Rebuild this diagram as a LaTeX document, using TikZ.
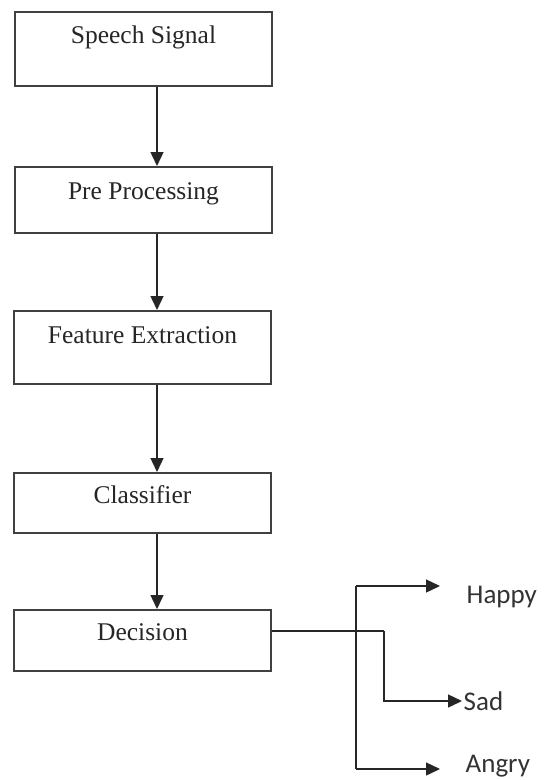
\documentclass[tikz,border=0pt]{standalone}
\usepackage{fontspec}
\setmainfont{Liberation Serif}
\newfontfamily\lblfont{Carlito}
\usetikzlibrary{arrows.meta}
\begin{document}
\begin{tikzpicture}[x=1pt,y=-1pt,
  line width=1.4pt, draw=black!80,
  stepbox/.style={draw=black!75, line width=1.6pt, rectangle, anchor=north,
    minimum width=257pt, inner xsep=0pt, inner ysep=0pt,
    font=\fontsize{25.5}{28}\selectfont, text=black!85},
  outlbl/.style={anchor=west, inner sep=1pt, font=\lblfont\fontsize{27}{30}\selectfont, text=black!80},
  arr/.style={-{Triangle[width=13pt,length=14pt]}, line width=1.4pt, draw=black!85}]
\useasboundingbox[fill=white] (0,0) rectangle (545,780);

\node[stepbox, text height=32pt, text depth=42pt] (b1) at (143.5,11) {Speech Signal};
\node[stepbox, text height=33pt, text depth=33pt] (b2) at (143.5,166) {Pre Processing};
\node[stepbox, text height=33pt, text depth=40pt] (b3) at (142.5,310) {Feature Extraction};
\node[stepbox, text height=31pt, text depth=29pt] (b4) at (142.5,472) {Classifier};
\node[stepbox, text height=31pt, text depth=30pt] (b5) at (142.5,609) {Decision};

\coordinate (ax) at (157,0);
\draw[arr] (b1.south -| ax) -- (b2.north -| ax);
\draw[arr] (b2.south -| ax) -- (b3.north -| ax);
\draw[arr] (b3.south -| ax) -- (b4.north -| ax);
\draw[arr] (b4.south -| ax) -- (b5.north -| ax);

\node[outlbl] (happy) at (465,597) {Happy};
\node[outlbl] (sad) at (462,701) {Sad};
\node[outlbl] (angry) at (464,766) {Angry};

\coordinate (j) at (384,631);
\coordinate (v1) at (356,586);
\coordinate (v2) at (356,769);
\coordinate (h) at (440,586);
\coordinate (a) at (440,769);

\draw[line width=1.4pt, draw=black!85] (j -| b5.east) -- (j);
\draw[arr] (j) |- (sad.west);
\draw[line width=1.4pt, draw=black!85] (v1) -- (v2);
\draw[arr] (v1) -- (h);
\draw[arr] (v2) -- (a);
\end{tikzpicture}
\end{document}
